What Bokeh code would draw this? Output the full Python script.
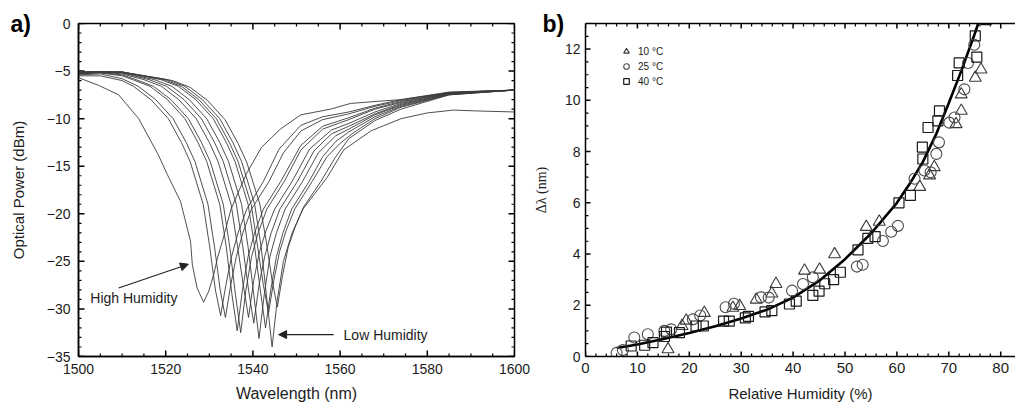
import numpy as np
from bokeh.plotting import figure
from bokeh.models import (LinearAxis, SingleIntervalTicker, CustomJSTickFormatter, Label,
                          Arrow, NormalHead, Legend, LegendItem, Range1d)
from bokeh.layouts import row
from bokeh.embed import file_html
from bokeh.resources import INLINE

# ---------------- Panel a: transmission spectra (wavelength nm, power dBm) ----------------
wl_01 = [1500, 1504.6, 1509.2, 1513.8, 1518.3, 1520.4, 1523.4, 1525.7, 1526.1, 1527.2, 1528.7, 1529.9, 1531.0,
         1531.9, 1533.0, 1535.0, 1538.5, 1542.0, 1546.3, 1551.0, 1557.8, 1562.4, 1568.0, 1574.0, 1580.0, 1588.0, 1600.0]
dbm_01 = [-5.7, -6.5, -7.5, -10.0, -13.8, -15.9, -18.7, -22.9, -25.3, -27.8, -29.3, -28.1, -26.4,
          -24.6, -22.9, -19.5, -15.8, -13.0, -11.1, -9.6, -9.0, -8.4, -8.2, -8.0, -7.6, -7.2, -7.0]

wl_02 = [1500, 1505, 1510, 1512.6, 1516.6, 1520.6, 1523.6, 1525.6, 1528.6, 1530.1, 1531.4, 1532.6,
         1533.8, 1535.1, 1536.6, 1538.6, 1542.4, 1546.0, 1551.0, 1556.0, 1562.0, 1568.0, 1574.0, 1585.0, 1600.0]
dbm_02 = [-5.5, -5.5, -6.0, -6.6, -8.0, -10.0, -12.5, -14.5, -19.0, -23.5, -28.0, -30.7,
          -27.5, -24.5, -22.0, -19.5, -16.6, -13.2, -10.7, -9.8, -9.3, -8.6, -8.0, -7.2, -7.0]

wl_03 = [1500, 1505, 1510, 1513.7, 1517.7, 1521.7, 1524.7, 1526.7, 1529.7, 1531.2, 1532.5, 1533.7,
         1534.9, 1536.2, 1537.7, 1539.7, 1543.7, 1547.0, 1551.0, 1556.0, 1562.0, 1568.0, 1574.0, 1585.0, 1600.0]
dbm_03 = [-5.4, -5.3, -5.8, -6.6, -8.0, -10.0, -12.5, -14.5, -19.0, -23.5, -28.0, -30.9,
          -27.5, -24.5, -22.0, -19.5, -16.6, -13.6, -11.3, -10.1, -9.5, -8.7, -8.1, -7.25, -7.0]

wl_04 = [1500, 1505, 1510, 1512.4, 1516.4, 1520.4, 1524.4, 1527.4, 1529.4, 1532.4, 1533.9, 1535.2, 1536.4,
         1537.6, 1538.9, 1540.4, 1542.4, 1546.4, 1551.0, 1556.0, 1562.0, 1568.0, 1574.0, 1585.0, 1600.0]
dbm_04 = [-5.3, -5.2, -5.5, -5.9, -6.6, -8.0, -10.0, -12.5, -14.5, -19.0, -23.5, -28.5, -32.3,
          -28.0, -24.5, -22.0, -19.5, -16.6, -12.8, -10.8, -9.9, -8.9, -8.2, -7.3, -7.0]

wl_05 = [1500, 1505, 1510, 1513.2, 1517.2, 1521.2, 1525.2, 1528.2, 1530.2, 1533.2, 1534.7, 1536.0, 1537.2,
         1538.4, 1539.7, 1541.2, 1543.2, 1547.2, 1551.0, 1556.0, 1562.0, 1568.0, 1574.0, 1585.0, 1600.0]
dbm_05 = [-5.3, -5.15, -5.4, -5.9, -6.6, -8.0, -10.0, -12.5, -14.5, -19.0, -23.5, -28.5, -32.5,
          -28.0, -24.5, -22.0, -19.5, -16.6, -13.3, -11.1, -10.1, -9.0, -8.3, -7.3, -7.0]

wl_06 = [1500, 1505, 1510, 1515.0, 1519.0, 1523.0, 1527.0, 1530.0, 1532.0, 1535.0, 1536.5, 1537.8, 1539.0,
         1540.2, 1541.5, 1543.0, 1545.0, 1549.0, 1553.0, 1558.0, 1562.0, 1568.0, 1574.0, 1585.0, 1600.0]
dbm_06 = [-5.2, -5.1, -5.3, -5.9, -6.6, -8.0, -10.0, -12.5, -14.5, -19.0, -23.5, -27.5, -30.9,
          -27.0, -24.0, -21.8, -19.5, -16.6, -13.2, -11.2, -10.5, -9.3, -8.4, -7.35, -7.0]

wl_07 = [1500, 1505, 1510, 1516.2, 1520.2, 1524.2, 1528.2, 1531.2, 1533.2, 1536.2, 1537.7, 1539.0, 1540.2,
         1541.4, 1542.7, 1544.2, 1546.2, 1550.2, 1554.0, 1558.0, 1562.0, 1568.0, 1574.0, 1585.0, 1600.0]
dbm_07 = [-5.2, -5.1, -5.2, -5.9, -6.6, -8.0, -10.0, -12.5, -14.5, -19.0, -23.5, -28.0, -31.5,
          -27.5, -24.5, -22.0, -19.5, -16.6, -13.4, -11.6, -10.8, -9.5, -8.5, -7.4, -7.0]

wl_08 = [1500, 1505, 1510, 1517.4, 1521.4, 1525.4, 1529.4, 1532.4, 1534.4, 1537.4, 1538.9, 1540.2, 1541.4,
         1542.6, 1543.9, 1545.4, 1547.4, 1551.4, 1555.0, 1559.0, 1562.0, 1568.0, 1574.0, 1585.0, 1600.0]
dbm_08 = [-5.1, -5.05, -5.15, -5.9, -6.6, -8.0, -10.0, -12.5, -14.5, -19.0, -23.5, -28.5, -33.1,
          -28.5, -24.5, -22.0, -19.5, -16.6, -13.6, -11.8, -11.1, -9.6, -8.6, -7.4, -7.0]

wl_09 = [1500, 1505, 1510, 1518.9, 1522.9, 1526.9, 1530.9, 1533.9, 1535.9, 1538.9, 1540.4, 1541.7, 1542.9,
         1544.1, 1545.4, 1546.9, 1548.9, 1552.9, 1556.0, 1559.0, 1562.0, 1568.0, 1574.0, 1585.0, 1600.0]
dbm_09 = [-5.1, -5.05, -5.1, -5.9, -6.6, -8.0, -10.0, -12.5, -14.5, -19.0, -23.5, -28.0, -32.0,
          -28.0, -24.5, -22.0, -19.5, -16.6, -14.0, -12.4, -11.4, -9.8, -8.7, -7.45, -7.0]

wl_10 = [1500, 1505, 1510, 1519.6, 1523.6, 1527.6, 1531.6, 1534.6, 1536.6, 1539.6, 1541.1, 1542.4, 1543.6,
         1544.8, 1546.1, 1547.6, 1549.6, 1553.6, 1557.0, 1560.0, 1563.0, 1568.0, 1574.0, 1585.0, 1600.0]
dbm_10 = [-5.2, -5.1, -5.1, -5.9, -6.6, -8.0, -10.0, -12.5, -14.5, -19.0, -23.5, -27.5, -30.4,
          -27.0, -24.0, -21.8, -19.5, -16.6, -14.0, -12.6, -11.5, -10.0, -8.8, -7.5, -7.0]

wl_11 = [1500, 1505, 1510, 1520.4, 1524.4, 1528.4, 1532.4, 1535.4, 1537.4, 1540.4, 1541.9, 1543.2, 1544.4,
         1545.6, 1547.0, 1549.0, 1551.5, 1557.0, 1560.8, 1567.0, 1574.0, 1580.0, 1586.0, 1592.0, 1600.0]
dbm_11 = [-5.1, -5.05, -5.1, -5.9, -6.6, -8.0, -10.0, -12.5, -14.5, -19.0, -23.5, -29.0, -34.0,
          -29.0, -25.0, -22.0, -19.5, -16.2, -13.3, -11.3, -10.0, -9.4, -9.1, -9.2, -9.3]

wl_12 = [1500, 1505, 1510, 1521.6, 1525.6, 1529.6, 1533.6, 1536.6, 1538.6, 1541.6, 1543.1, 1544.4, 1545.6,
         1546.8, 1548.1, 1549.6, 1551.6, 1555.6, 1559.0, 1562.0, 1568.0, 1574.0, 1585.0, 1600.0]
dbm_12 = [-5.2, -5.1, -5.1, -6.0, -6.7, -8.1, -10.1, -12.6, -14.6, -19.0, -23.0, -27.0, -29.8,
          -26.5, -23.5, -21.5, -19.3, -16.6, -14.0, -12.1, -10.2, -9.0, -7.5, -7.0]

spectra_wl = [wl_01, wl_02, wl_03, wl_04, wl_05, wl_06, wl_07, wl_08, wl_09, wl_10, wl_11, wl_12]
spectra_dbm = [dbm_01, dbm_02, dbm_03, dbm_04, dbm_05, dbm_06, dbm_07, dbm_08, dbm_09, dbm_10, dbm_11, dbm_12]

# ---------------- Panel b: wavelength shift vs relative humidity ----------------
rh_10c = [15.9, 18.6, 19.4, 22.9, 28.4, 29.7, 32.9, 35.9, 36.7, 42.2, 45.1, 48.0, 54.1, 56.6,
          64.4, 66.3, 67.2, 71.4, 72.4, 72.4, 75.1, 76.2]
dl_10c = [0.28, 1.19, 1.40, 1.70, 1.90, 1.97, 2.22, 2.46, 2.83, 3.35, 3.39, 3.99, 5.06, 5.26,
          6.62, 7.07, 7.39, 9.07, 9.59, 10.23, 10.88, 11.20]

rh_25c = [6.0, 7.2, 9.4, 12.0, 15.2, 16.5, 20.7, 22.1, 27.0, 28.6, 33.8, 35.3, 39.8, 41.9, 43.8,
          52.3, 53.4, 57.3, 58.9, 60.2, 63.4, 65.3, 66.5, 67.6, 68.1, 70.1, 71.1, 73.0, 73.7, 74.9]
dl_25c = [0.14, 0.25, 0.74, 0.87, 1.00, 1.06, 1.45, 1.60, 1.92, 2.06, 2.31, 2.30, 2.57, 2.83, 3.09,
          3.51, 3.58, 4.51, 4.87, 5.10, 6.94, 7.26, 7.19, 7.91, 8.36, 9.13, 9.33, 10.43, 11.46, 12.17]

rh_40c = [8.8, 11.4, 13.0, 15.2, 15.6, 18.1, 21.3, 22.7, 26.6, 27.7, 30.8, 31.4, 34.6, 35.9, 39.3,
          40.6, 43.8, 45.0, 46.1, 47.8, 49.1, 52.5, 54.4, 55.8, 60.4, 62.6, 65.0, 64.9, 66.0, 67.9,
          68.2, 71.7, 72.0, 75.4, 75.1, 77.2]
dl_40c = [0.41, 0.44, 0.54, 0.78, 0.95, 0.93, 1.19, 1.19, 1.38, 1.38, 1.51, 1.57, 1.74, 1.79, 2.05,
          2.16, 2.39, 2.55, 2.84, 3.00, 3.29, 4.16, 4.61, 4.68, 6.00, 6.29, 7.71, 8.17, 8.94, 9.20,
          9.59, 10.97, 11.46, 11.69, 12.52, 13.15]

fit_rh = [6, 10, 15, 20, 25, 30, 35, 40, 45, 50, 55, 60, 62.5, 65, 67.5, 70, 72.5, 75, 76.5]
fit_dl = [0.33, 0.47, 0.68, 0.92, 1.18, 1.48, 1.83, 2.3, 2.95, 3.8, 4.8, 6.0, 6.75, 7.6, 8.65,
          9.9, 11.2, 12.6, 13.5]

legend_labels = ["10 °C", "25 °C", "40 °C"]

FONT = "Liberation Sans"
TXT = "#1c1c1c"
empty_fmt = CustomJSTickFormatter(code="return ''")


def style_axis(ax, ticker, label_size="14px", standoff=6, show_labels=True):
    ax.ticker = ticker
    ax.axis_line_color = "black"
    ax.axis_line_width = 1.5
    ax.major_tick_line_color = None
    ax.minor_tick_line_color = None
    ax.major_tick_in = 0
    ax.major_tick_out = 0
    ax.minor_tick_in = 0
    ax.minor_tick_out = 0
    if show_labels:
        ax.major_label_text_font = FONT
        ax.major_label_text_font_size = label_size
        ax.major_label_text_color = TXT
        ax.major_label_standoff = standoff
    else:
        ax.formatter = empty_fmt
        ax.major_label_text_font_size = "0px"
        ax.major_label_standoff = 0


def tick_values(lo, hi, major, minor):
    allv = np.round(np.arange(lo, hi + minor / 2, minor), 6)
    maj = [v for v in allv if abs(v / major - round(v / major)) < 1e-6]
    mnr = [v for v in allv if abs(v / major - round(v / major)) >= 1e-6]
    return maj, mnr


def inward_ticks(p, xr, yr, xmaj, xmin, ymaj, ymin, sides, lmaj=6, lmin=3):
    # tick marks centred on the frame edge; the half outside the frame is clipped away
    x0, x1 = xr
    y0, y1 = yr
    for edge, side in ((y0, "bottom"), (y1, "top")):
        if side not in sides:
            continue
        p.scatter(xmaj, [edge] * len(xmaj), marker="dash", angle=np.pi / 2, size=2 * lmaj,
                  line_color="black", line_width=1.5)
        p.scatter(xmin, [edge] * len(xmin), marker="dash", angle=np.pi / 2, size=2 * lmin,
                  line_color="black", line_width=1.2)
    for edge, side in ((x0, "left"), (x1, "right")):
        if side not in sides:
            continue
        p.scatter([edge] * len(ymaj), ymaj, marker="dash", size=2 * lmaj,
                  line_color="black", line_width=1.5)
        p.scatter([edge] * len(ymin), ymin, marker="dash", size=2 * lmin,
                  line_color="black", line_width=1.2)


def panel_tag(p, text, offset):
    # panel letter drawn as the figure title, pulled down beside the frame's top-left corner
    p.title.text = text
    p.title.align = "left"
    p.title.vertical_align = "bottom"
    p.title.offset = offset
    p.title.standoff = -27
    p.title.text_font = FONT
    p.title.text_font_size = "23px"
    p.title.text_font_style = "bold"
    p.title.text_color = "black"


# ---------- figure a ----------
XA = (1500, 1600)
YA = (-35, 0)
pa = figure(width=530, height=408, x_range=Range1d(*XA), y_range=Range1d(*YA),
            output_backend="svg", toolbar_location=None, title="a)",
            min_border_left=78, min_border_right=16, min_border_top=21, min_border_bottom=52)
pa.xgrid.visible = False
pa.ygrid.visible = False
pa.outline_line_color = "black"
pa.outline_line_width = 1.5
pa.background_fill_color = None
pa.border_fill_color = None
panel_tag(pa, "a)", -68)

tx_a = SingleIntervalTicker(interval=20, num_minor_ticks=4)
ty_a = SingleIntervalTicker(interval=5, num_minor_ticks=5)
style_axis(pa.xaxis[0], tx_a, "14px", 7)
style_axis(pa.yaxis[0], ty_a, "14px", 8)
pa.xaxis.axis_label = "Wavelength (nm)"
pa.yaxis.axis_label = "Optical Power (dBm)"
for ax, sz in ((pa.xaxis[0], "16px"), (pa.yaxis[0], "15px")):
    ax.axis_label_text_font = FONT
    ax.axis_label_text_font_size = sz
    ax.axis_label_text_font_style = "normal"
    ax.axis_label_text_color = TXT
pa.xaxis.axis_label_standoff = 8
pa.yaxis.axis_label_standoff = 17

xmaj_a, xmin_a = tick_values(XA[0], XA[1], 20, 5)
ymaj_a, ymin_a = tick_values(YA[0], YA[1], 5, 1)
inward_ticks(pa, XA, YA, xmaj_a, xmin_a, ymaj_a, ymin_a, ("bottom", "top", "left", "right"))

for xs, ys in zip(spectra_wl, spectra_dbm):
    pa.line(xs, ys, line_color="#3c3c3c", line_width=1.0, line_alpha=0.9)

# annotations (text + arrows)
HH_TEXT = (1502.7, -28.9)
HH_ARROW = (1509.2, -27.8, 1525.2, -25.3)
LH_TEXT = (1560.8, -32.7)
LH_ARROW = (1558.5, -32.7, 1545.9, -32.7)
pa.add_layout(Label(x=HH_TEXT[0], y=HH_TEXT[1], text="High Humidity", text_font=FONT,
                    text_font_size="14px", text_color=TXT, text_baseline="middle"))
pa.add_layout(Label(x=LH_TEXT[0], y=LH_TEXT[1], text="Low Humidity", text_font=FONT,
                    text_font_size="14px", text_color=TXT, text_baseline="middle"))
for (x0, y0, x1, y1) in (HH_ARROW, LH_ARROW):
    pa.add_layout(Arrow(end=NormalHead(size=8, fill_color="#222", line_color="#222", line_width=1),
                        x_start=x0, y_start=y0, x_end=x1, y_end=y1,
                        line_color="#222", line_width=1.2))

# ---------- figure b ----------
XB = (0, 82.85)
YB = (0, 13)
pb = figure(width=485, height=408, x_range=Range1d(*XB), y_range=Range1d(*YB),
            output_backend="svg", toolbar_location=None, title="b)",
            min_border_left=55, min_border_right=0, min_border_top=23, min_border_bottom=49)
pb.xgrid.visible = False
pb.ygrid.visible = False
pb.outline_line_color = None
pb.background_fill_color = None
pb.border_fill_color = None
panel_tag(pb, "b)", -43)

tx_b = SingleIntervalTicker(interval=10, num_minor_ticks=5)
ty_b = SingleIntervalTicker(interval=2, num_minor_ticks=4)
style_axis(pb.xaxis[0], tx_b, "15px", 6)
style_axis(pb.yaxis[0], ty_b, "14px", 5)
pb.xaxis.axis_label = "Relative Humidity (%)"
pb.xaxis.axis_label_text_font = FONT
pb.xaxis.axis_label_text_font_size = "15px"
pb.xaxis.axis_label_text_font_style = "normal"
pb.xaxis.axis_label_text_color = TXT
pb.xaxis.axis_label_standoff = 9
pb.yaxis.axis_label = "Δλ (nm)"
pb.yaxis.axis_label_text_font = "Liberation Serif"
pb.yaxis.axis_label_text_font_size = "14px"
pb.yaxis.axis_label_text_font_style = "normal"
pb.yaxis.axis_label_text_color = TXT
pb.yaxis.axis_label_standoff = 13

top_b = LinearAxis()
style_axis(top_b, tx_b, show_labels=False)
pb.add_layout(top_b, "above")

xmaj_b, xmin_b = tick_values(XB[0], 80, 10, 2)
ymaj_b, ymin_b = tick_values(YB[0], 12, 2, 0.5)
ymin_b = ymin_b + [12.5]
inward_ticks(pb, XB, YB, xmaj_b, xmin_b, ymaj_b, ymin_b, ("bottom", "top", "left"), lmaj=5, lmin=3)

pb.line(fit_rh, fit_dl, line_color="black", line_width=2.6)
r_tri = pb.scatter(rh_10c, dl_10c, marker="triangle", size=12, fill_color=None,
                   line_color="#3a3a3a", line_width=1.1)
r_cir = pb.scatter(rh_25c, dl_25c, marker="circle", size=11, fill_color=None,
                   line_color="#4a4a4a", line_width=1.1)
r_sq = pb.scatter(rh_40c, dl_40c, marker="square", size=10, fill_color=None,
                  line_color="#1a1a1a", line_width=1.2)

legend = Legend(items=[LegendItem(label=legend_labels[0], renderers=[r_tri]),
                       LegendItem(label=legend_labels[1], renderers=[r_cir]),
                       LegendItem(label=legend_labels[2], renderers=[r_sq])],
                location=(33, 268), border_line_color=None, background_fill_alpha=0,
                padding=0, margin=0, spacing=1, glyph_width=16, glyph_height=14,
                label_height=14, label_standoff=4, label_text_font=FONT,
                label_text_font_size="10px", label_text_color=TXT)
pb.add_layout(legend)

layout = row(pa, pb)
open("out.html", "w").write(file_html(layout, INLINE))
